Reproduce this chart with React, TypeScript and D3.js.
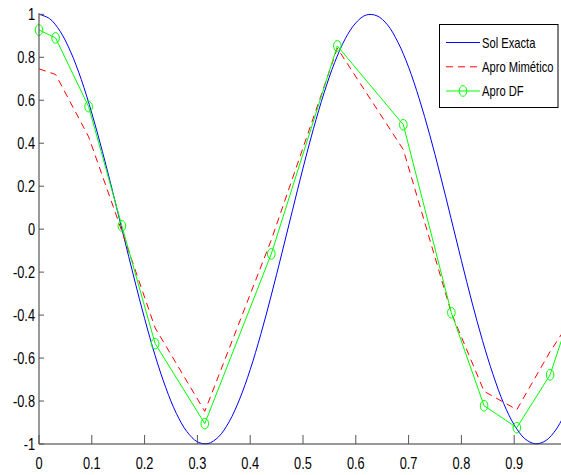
import React from "react";
import * as d3 from "d3";

// Exact solution at x = 0, 0.02, ..., 1
const exactX: number[] = [
  0, 0.02, 0.04, 0.06, 0.08, 0.1, 0.12, 0.14, 0.16, 0.18, 0.2, 0.22, 0.24, 0.26, 0.28, 0.3, 0.32,
  0.34, 0.36, 0.38, 0.4, 0.42, 0.44, 0.46, 0.48, 0.5, 0.52, 0.54, 0.56, 0.58, 0.6, 0.62, 0.64,
  0.66, 0.68, 0.7, 0.72, 0.74, 0.76, 0.78, 0.8, 0.82, 0.84, 0.86, 0.88, 0.9, 0.92, 0.94, 0.96,
  0.98, 1.0,
];
const exactY: number[] = [
  1.0, 0.98, 0.921, 0.825, 0.697, 0.54, 0.362, 0.17, -0.029, -0.227, -0.416, -0.589, -0.737,
  -0.857, -0.942, -0.99, -0.998, -0.967, -0.897, -0.791, -0.654, -0.49, -0.307, -0.112, 0.087,
  0.284, 0.469, 0.635, 0.776, 0.886, 0.96, 0.997, 0.993, 0.951, 0.869, 0.754, 0.608, 0.439,
  0.252, 0.054, -0.146, -0.34, -0.519, -0.677, -0.811, -0.911, -0.975, -0.999, -0.984, -0.93,
  -0.839,
];

// Approximations (same nodes)
const nodesX: number[] = [0, 0.0314, 0.094, 0.157, 0.22, 0.314, 0.44, 0.565, 0.69, 0.781, 0.843, 0.905, 0.968, 1.0];
const mimeticoY: number[] = [0.746, 0.72, 0.43, -0.01, -0.46, -0.848, -0.05, 0.842, 0.37, -0.39, -0.755, -0.84, -0.57, -0.45];
const dfY: number[] = [0.927, 0.89, 0.57, 0.015, -0.533, -0.905, -0.115, 0.853, 0.486, -0.389, -0.822, -0.924, -0.678, -0.44];
const dfMarkerCount = 13;

const xTicks: number[] = [0, 0.1, 0.2, 0.3, 0.4, 0.5, 0.6, 0.7, 0.8, 0.9];
const yTicks: number[] = [-1, -0.8, -0.6, -0.4, -0.2, 0, 0.2, 0.4, 0.6, 0.8, 1];
const legendLabels: string[] = ["Sol Exacta", "Apro Mimético", "Apro DF"];

const W = 561;
const H = 475;
const FONT = "'Liberation Sans', Arial, sans-serif";
const NARROW = 0.8;

function NText(props: { x: number; y: number; size: number; anchor?: string; children: React.ReactNode }) {
  return (
    <g transform={`translate(${props.x},${props.y}) scale(${NARROW},1)`}>
      <text x={0} y={0} fontSize={props.size} textAnchor={props.anchor || "start"} fill="#000">
        {props.children}
      </text>
    </g>
  );
}

export default function App() {
  const x = d3.scaleLinear().domain([0, 1]).range([39, 567]);
  const y = d3.scaleLinear().domain([-1, 1]).range([444, 14.3]);

  const smooth = d3
    .line<number>()
    .x((_, i) => x(exactX[i]))
    .y((d) => y(d))
    .curve(d3.curveCatmullRom);
  const poly = d3
    .line<number>()
    .x((_, i) => x(nodesX[i]))
    .y((d) => y(d));

  const axisColor = "#555";
  const fmt = (v: number) => (v === 0 ? "0" : String(v));

  const legX = 439.5;
  const legY = 24.5;
  const legRows = [42.5, 66.8, 91];
  const green = "#00ff00";

  return (
    <svg
      width={W}
      height={H}
      style={{ position: "absolute", left: 0, top: 0, background: "#fff" }}
      fontFamily={FONT}
    >
      <rect width={W} height={H} fill="#fff" />
      {/* series */}
      <path d={smooth(exactY) || ""} fill="none" stroke="#0000ff" strokeWidth={1} />
      <path d={poly(mimeticoY) || ""} fill="none" stroke="#ff0000" strokeWidth={1} strokeDasharray="7,5" />
      <path d={poly(dfY) || ""} fill="none" stroke={green} strokeWidth={1} />
      {dfY.slice(0, dfMarkerCount).map((v, i) => (
        <ellipse key={i} cx={x(nodesX[i])} cy={y(v)} rx={3.8} ry={5.3} fill="none" stroke={green} strokeWidth={1} />
      ))}

      {/* axes */}
      <line x1={x(0)} x2={W} y1={y(-1)} y2={y(-1)} stroke="#333" strokeWidth={1.2} />
      <line x1={x(0)} x2={x(0)} y1={y(1) - 1} y2={y(-1)} stroke={axisColor} strokeWidth={1.2} />
      {xTicks.map((t) => (
        <g key={"x" + t}>
          <line x1={x(t)} x2={x(t)} y1={y(-1)} y2={y(-1) - 9} stroke={axisColor} strokeWidth={1} />
          <NText x={x(t)} y={469} size={16} anchor="middle">
            {fmt(t)}
          </NText>
        </g>
      ))}
      {yTicks.map((t) => (
        <g key={"y" + t}>
          <line x1={x(0)} x2={x(0) + 5} y1={y(t)} y2={y(t)} stroke={axisColor} strokeWidth={1} />
          <NText x={35} y={y(t) + 5.5} size={16} anchor="end">
            {fmt(t)}
          </NText>
        </g>
      ))}

      {/* legend */}
      <rect x={legX} y={legY} width={118.5} height={83} fill="#fff" stroke="#000" strokeWidth={1} />
      <line x1={446} x2={480} y1={legRows[0]} y2={legRows[0]} stroke="#0000ff" strokeWidth={1} />
      <line x1={446} x2={480} y1={legRows[1]} y2={legRows[1]} stroke="#ff0000" strokeWidth={1} strokeDasharray="7,5" />
      <line x1={446} x2={480} y1={legRows[2]} y2={legRows[2]} stroke={green} strokeWidth={1} />
      <ellipse cx={463} cy={legRows[2]} rx={3.8} ry={5.3} fill="none" stroke={green} strokeWidth={1} />
      {legendLabels.map((l, i) => (
        <NText key={l} x={482} y={legRows[i] + 5} size={14}>
          {l}
        </NText>
      ))}
    </svg>
  );
}
